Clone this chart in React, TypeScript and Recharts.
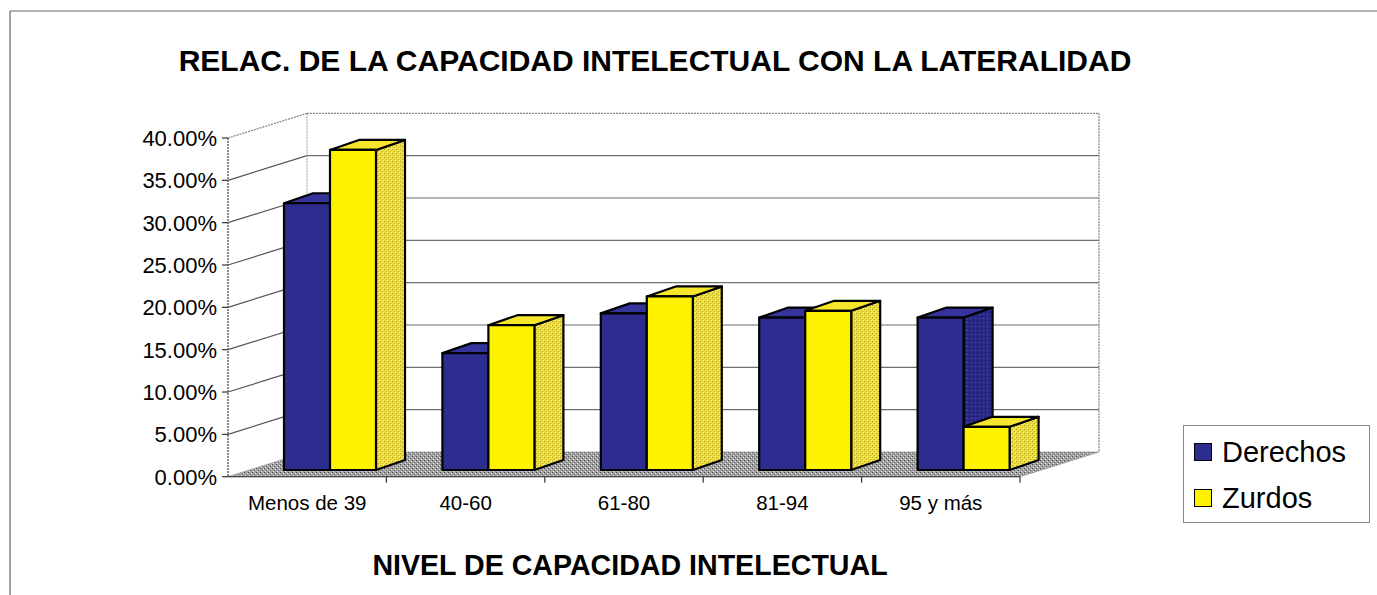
import React from 'react';
import { BarChart, Bar, XAxis, YAxis, Legend, Customized } from 'recharts';

const categories = ['Menos de 39', '40-60', '61-80', '81-94', '95 y más'];
const derechos = [0.315, 0.138, 0.185, 0.18, 0.18];
const zurdos = [0.378, 0.171, 0.205, 0.188, 0.051];
const yTicks = [0, 0.05, 0.1, 0.15, 0.2, 0.25, 0.3, 0.35, 0.4];

const data = categories.map((c, i) => ({ cat: c, Derechos: derechos[i], Zurdos: zurdos[i] }));

const W = 1377;
const H = 595;
const FONT = '"Liberation Sans", Arial, sans-serif';

// front edge of the 3d box
const FX = 228;
const FY0 = 476.7;
const FTOP = 138;
const FW = 792;
// full depth of the box
const DX = 79;
const DY = 24.7;
// bars sit a little behind the front edge
const BX = 23;
const BY = 6.7;
// depth of each bar
const BDX = 29;
const BDY = 10;

const Y_AXIS_W = 120;
const X_AXIS_H = 60;

const yFront = (v: number) => FY0 - (v / 0.4) * (FY0 - FTOP);

const NAVY = '#2D2D8F';
const YEL = '#FFF200';

function Box3D(props: any) {
  const { x, y, width: w, height: h, fill } = props;
  if (h == null || w == null) return null;
  const navy = fill === NAVY;
  const side = navy ? 'url(#speckN)' : 'url(#speckY)';
  const top = navy ? '#34349a' : '#f6e62c';
  return (
    <g stroke="#000" strokeWidth={2.2} strokeLinejoin="round">
      <polygon
        points={`${x + w},${y} ${x + w + BDX},${y - BDY} ${x + w + BDX},${y + h - BDY} ${x + w},${y + h}`}
        fill={side}
      />
      <polygon
        points={`${x},${y} ${x + BDX},${y - BDY} ${x + w + BDX},${y - BDY} ${x + w},${y}`}
        fill={top}
      />
      <rect x={x} y={y} width={w} height={h} fill={fill} />
    </g>
  );
}

function Frame() {
  const bx0 = FX + DX;
  const by0 = FY0 - DY;
  const byTop = FTOP - DY;
  const catW = FW / categories.length;
  return (
    <g>
      <defs>
        <pattern id="speckY" width="4" height="4" patternUnits="userSpaceOnUse">
          <rect width="4" height="4" fill="#eedd40" />
          <rect x="0" y="1" width="1" height="1" fill="#a89a20" />
          <rect x="2" y="3" width="1" height="1" fill="#c0b028" />
          <rect x="3" y="0" width="1" height="1" fill="#fff880" />
        </pattern>
        <pattern id="speckN" width="4" height="4" patternUnits="userSpaceOnUse">
          <rect width="4" height="4" fill="#2a2a86" />
          <rect x="1" y="0" width="1" height="1" fill="#15155a" />
          <rect x="3" y="2" width="1" height="1" fill="#4848a8" />
        </pattern>
        <pattern id="speckG" width="4" height="4" patternUnits="userSpaceOnUse">
          <rect width="4" height="4" fill="#a0a0a0" />
          <rect x="0" y="0" width="1" height="1" fill="#505050" />
          <rect x="2" y="2" width="1" height="1" fill="#686868" />
          <rect x="3" y="1" width="1" height="1" fill="#e0e0e0" />
          <rect x="1" y="3" width="1" height="1" fill="#e8e8e8" />
        </pattern>
      </defs>
      {/* outer frame */}
      <line x1={10} y1={11} x2={W} y2={11} stroke="#666" strokeWidth={1.2} />
      <line x1={10} y1={11} x2={10} y2={H} stroke="#666" strokeWidth={1.2} />

      <text x={655} y={71} textAnchor="middle" fontFamily={FONT} fontWeight="bold" fontSize={30} fill="#000">
        RELAC. DE LA CAPACIDAD INTELECTUAL CON LA LATERALIDAD
      </text>
      <text x={630} y={575} textAnchor="middle" fontFamily={FONT} fontWeight="bold" fontSize={28.6} fill="#000">
        NIVEL DE CAPACIDAD INTELECTUAL
      </text>

      {/* floor */}
      <polygon points={`${FX},${FY0} ${FX + FW},${FY0} ${bx0 + FW},${by0} ${bx0},${by0}`} fill="url(#speckG)" stroke="#999" strokeWidth={0.8} />

      {/* back wall + side wall grid */}
      {yTicks.slice(1, -1).map((t) => (
        <g key={t}>
          <line x1={bx0} y1={yFront(t) - DY} x2={bx0 + FW} y2={yFront(t) - DY} stroke="#6f6f6f" strokeWidth={1.2} />
          <line x1={FX} y1={yFront(t)} x2={bx0} y2={yFront(t) - DY} stroke="#555" strokeWidth={1.2} />
        </g>
      ))}
      <line x1={bx0} y1={byTop} x2={bx0 + FW} y2={byTop} stroke="#888" strokeWidth={1.3} strokeDasharray="2 1" />
      <line x1={bx0 + FW} y1={byTop} x2={bx0 + FW} y2={by0} stroke="#888" strokeWidth={1.3} strokeDasharray="2 1" />
      <line x1={bx0} y1={byTop} x2={bx0} y2={by0} stroke="#999" strokeWidth={1} strokeDasharray="2 1" />
      <line x1={FX} y1={FTOP} x2={bx0} y2={byTop} stroke="#888" strokeWidth={1.3} strokeDasharray="2 1" />
      <line x1={FX} y1={FTOP} x2={FX} y2={FY0} stroke="#666" strokeWidth={1.5} strokeDasharray="2 1" />

      {/* value axis ticks */}
      {yTicks.map((t) => (
        <line key={'t' + t} x1={FX - 6} y1={yFront(t)} x2={FX} y2={yFront(t)} stroke="#333" strokeWidth={1.2} />
      ))}

      {/* category axis */}
      <line x1={FX} y1={FY0} x2={FX + FW} y2={FY0} stroke="#444" strokeWidth={1.2} />
      {categories.map((c, i) => (
        <line key={c} x1={FX + (i + 1) * catW} y1={FY0} x2={FX + (i + 1) * catW} y2={FY0 + 6} stroke="#333" strokeWidth={1.2} />
      ))}
    </g>
  );
}

const YTick = (props: any) => {
  const { x, y, payload } = props;
  return (
    <text x={x - 34} y={y + BY} dy="0.36em" textAnchor="end" fontFamily={FONT} fontSize={22} fill="#000">
      {(payload.value * 100).toFixed(2) + '%'}
    </text>
  );
};

const XTick = (props: any) => {
  const { x, y, payload } = props;
  return (
    <text x={x - BX} y={y + 40} textAnchor="middle" fontFamily={FONT} fontSize={20.5} fill="#000">
      {payload.value}
    </text>
  );
};

const LegendBox = (props: any) => {
  const items = props.payload || [];
  return (
    <div style={{ width: 187, height: 98, border: '1px solid #888', boxSizing: 'border-box', background: '#fff', paddingTop: 3, paddingLeft: 10, fontFamily: FONT }}>
      {items.map((it: any) => (
        <div key={it.value} style={{ display: 'flex', alignItems: 'center', height: 46, fontSize: 29 }}>
          <span style={{ display: 'inline-block', width: 16, height: 16, background: it.color, border: '1.5px solid #000', marginRight: 10 }} />
          <span>{it.value}</span>
        </div>
      ))}
    </div>
  );
};

export default function App() {
  const left = FX + BX;
  const top = FTOP - BY;
  return (
    <div style={{ position: 'fixed', left: 0, top: 0, width: W, height: H, background: '#fff' }}>
      <BarChart
        width={W}
        height={H}
        data={data}
        margin={{ top, left: left - Y_AXIS_W, right: W - left - FW, bottom: H - (FY0 - BY) - X_AXIS_H }}
        barGap={0}
        barSize={46}
      >
        <Customized component={<Frame />} />
        <XAxis dataKey="cat" height={X_AXIS_H} tickSize={0} tickMargin={0} axisLine={false} tick={<XTick />} interval={0} />
        <YAxis width={Y_AXIS_W} domain={[0, 0.4]} ticks={yTicks} tickSize={0} tickMargin={0} axisLine={false} tick={<YTick />} />
        <Legend
          layout="vertical"
          align="center"
          verticalAlign="middle"
          content={<LegendBox />}
          wrapperStyle={{ left: 1183, top: 425, width: 187 }}
        />
        <Bar dataKey="Derechos" fill={NAVY} shape={<Box3D />} isAnimationActive={false} />
        <Bar dataKey="Zurdos" fill={YEL} shape={<Box3D />} isAnimationActive={false} />
      </BarChart>
    </div>
  );
}
